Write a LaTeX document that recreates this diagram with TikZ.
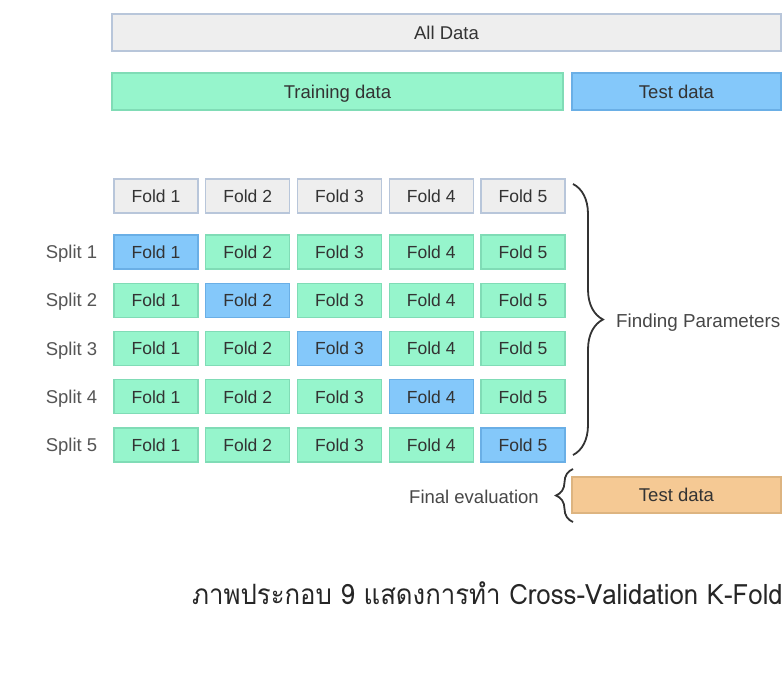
\documentclass[tikz,border=0pt]{standalone}
\usepackage{fontspec}
\setmainfont{Liberation Sans}
\newfontfamily\thaifont[Script=Thai]{Loma}
\usetikzlibrary{decorations.pathreplacing}
\definecolor{grayfill}{HTML}{EEEEEE}
\definecolor{grayline}{HTML}{B8C6DA}
\definecolor{greenfill}{HTML}{96F5CC}
\definecolor{greenline}{HTML}{80DCB6}
\definecolor{bluefill}{HTML}{84C8FA}
\definecolor{blueline}{HTML}{6AAFE6}
\definecolor{orangefill}{HTML}{F5C994}
\definecolor{orangeline}{HTML}{DDB480}
\definecolor{txt}{HTML}{333333}
\definecolor{lbl}{HTML}{555555}
\begin{document}
\begin{tikzpicture}[x=1pt,y=-1pt,
  box/.style={draw, line width=1.3pt, minimum width=84pt, minimum height=34pt, inner sep=0pt, text=txt, text height=12.5pt, text depth=0pt, font=\fontsize{17.5}{17.5}\selectfont},
  wide/.style={box, minimum height=37pt, text height=13pt, font=\fontsize{18.5}{18.5}\selectfont},
  lab/.style={text=lbl, inner sep=0pt, text height=13pt, text depth=0pt, font=\fontsize{18.5}{18.5}\selectfont},
  bracestyle/.style={decorate, line width=1.8pt, draw=txt}
]
\useasboundingbox (0,0) rectangle (784,680);
\fill[white] (0,0) rectangle (784,680);

% top bars
\node[wide, fill=grayfill, draw=grayline, minimum width=669pt] (all) at (446.5,32.5) {All Data};
\node[wide, fill=greenfill, draw=greenline, minimum width=451pt] (train) at (337.5,91.5) {Training data};
\node[wide, fill=bluefill, draw=blueline, minimum width=209pt] (test) at (676.5,91.5) {Test data};

% header folds
\foreach \c in {1,...,5}{
  \pgfmathsetmacro{\xx}{156+91.75*(\c-1)}
  \node[box, fill=grayfill, draw=grayline] (h\c) at (\xx,196) {Fold \c};
}
% splits
\foreach \r in {1,...,5}{
  \pgfmathsetmacro{\yy}{252+48.25*(\r-1)}
  \node[lab] (split\r) at (71.5,\yy) {Split \r};
  \foreach \c in {1,...,5}{
    \pgfmathsetmacro{\xx}{156+91.75*(\c-1)}
    \ifnum\r=\c
      \node[box, fill=bluefill, draw=blueline] (s\r c\c) at (\xx,\yy) {Fold \c};
    \else
      \node[box, fill=greenfill, draw=greenline] (s\r c\c) at (\xx,\yy) {Fold \c};
    \fi
  }
}

% braces
\coordinate (btop) at (573,184);
\coordinate (bbot) at (573,455);
\draw[bracestyle, decoration={brace, amplitude=30pt}] (btop) -- (bbot);
\node[lab, anchor=west, text=txt!90, text height=13.5pt, font=\fontsize{18.8}{18.8}\selectfont] (fparam) at (616,321) {Finding Parameters};

\node[wide, fill=orangefill, draw=orangeline, minimum width=209pt, minimum height=36pt] (final) at (676.5,495) {Test data};
\coordinate (ftop) at (573,469);
\coordinate (fbot) at (573,522);
\draw[bracestyle, decoration={brace, amplitude=17pt}] (fbot) -- (ftop);
\node[lab, anchor=east, text=txt!90] (feval) at (539,497) {Final evaluation};

% caption
\node[anchor=base, inner sep=0pt, text=black!85] (cap) at (487.5,604) {\thaifont\fontsize{28}{28}\selectfont\scalebox{0.92}[1]{ภาพประกอบ 9 แสดงการทำ Cross-Validation K-Fold}};
\end{tikzpicture}
\end{document}
